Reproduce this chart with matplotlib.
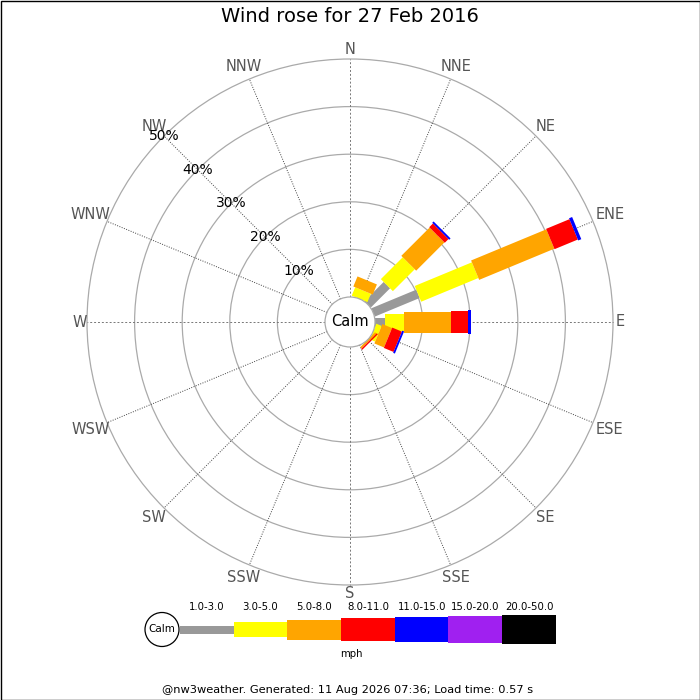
# Wind rose for 27 Feb 2016 (nw3weather style)

import numpy as np
import matplotlib
matplotlib.use("Agg")
import matplotlib.pyplot as plt
from matplotlib.patches import Rectangle, Circle

directions = ["N", "NNE", "NE", "ENE", "E", "ESE", "SE", "SSE",
              "S", "SSW", "SW", "WSW", "W", "WNW", "NW", "NNW"]
speed_bins = ["1.0-3.0", "3.0-5.0", "5.0-8.0", "8.0-11.0",
              "11.0-15.0", "15.0-20.0", "20.0-50.0"]
bin_colors = ["#999999", "#ffff00", "#ffa500", "#ff0000",
              "#0000ff", "#a020f0", "#000000"]

# percentage of time per direction, per speed bin
freq = {
    "NNE": [0.0, 1.9, 2.3, 0.0, 0.0, 0.0, 0.0],
    "NE":  [5.7, 6.5, 8.4, 1.1, 0.4, 0.0, 0.0],
    "ENE": [10.2, 13.0, 17.1, 5.3, 0.7, 0.0, 0.0],
    "E":   [2.1, 4.0, 9.9, 3.6, 0.5, 0.0, 0.0],
    "ESE": [0.0, 1.2, 2.2, 2.2, 0.4, 0.0, 0.0],
    "SE":  [0.0, 0.0, 0.4, 0.3, 0.0, 0.0, 0.0],
}
pct_rings = [10, 20, 30, 40, 50]

PX = 4.76          # pixels per percent
R0 = 25 / PX       # calm circle radius in percent units
bar_w = np.array([9, 17, 21, 22, 24, 26, 28]) / PX

fig = plt.figure(figsize=(7, 7), dpi=100)
ax = fig.add_axes([0, 0, 1, 1])
ax.set_xlim(-350 / PX, 350 / PX)
ax.set_ylim(-378 / PX, 322 / PX)
ax.axis("off")

rmax = R0 + pct_rings[-1]
for p in pct_rings:
    ax.add_patch(Circle((0, 0), R0 + p, fill=False, ec="#aaaaaa", lw=0.9, zorder=1))

for i, d in enumerate(directions):
    th = np.deg2rad(90 - 22.5 * i)
    c, s = np.cos(th), np.sin(th)
    ls = (0, (2, 2)) if i % 4 == 0 else (0, (1, 1.5))
    col = "#777777" if i % 4 == 0 else "#444444"
    ax.plot([R0 * c, rmax * c], [R0 * s, rmax * s], ls=ls, color=col, lw=0.7, zorder=2)
    # push label out so its box clears the outer ring
    tw, tht = 9.3 * len(d), 12
    rl = (266 + 0.5 * (abs(c) * tw + abs(s) * tht)) / PX
    ax.text(rl * c, rl * s, d, ha="center", va="center", fontsize=10.5, color="#555555")

# bars
for i, d in enumerate(directions):
    if d not in freq:
        continue
    th = np.deg2rad(90 - 22.5 * i)
    c, s = np.cos(th), np.sin(th)
    r = R0
    for k, v in enumerate(freq[d]):
        if v <= 0:
            continue
        w = bar_w[k]
        x0 = r * c + (w / 2) * s
        y0 = r * s - (w / 2) * c
        ax.add_patch(Rectangle((x0, y0), v, w, angle=np.rad2deg(th),
                               color=bin_colors[k], lw=0, zorder=3 + k))
        r += v

ax.add_patch(Circle((0, 0), R0, fc="white", ec="#aaaaaa", lw=0.9, zorder=12))
ax.text(0, 0, "Calm", ha="center", va="center", fontsize=10.5, zorder=13)

for p in pct_rings:
    th = np.deg2rad(135)
    ax.text((R0 + p) * np.cos(th), (R0 + p) * np.sin(th), f"{p}%",
            ha="center", va="center", fontsize=10, zorder=14)

# legend + title in pixel coords
lax = fig.add_axes([0, 0, 1, 1])
lax.set_xlim(0, 700)
lax.set_ylim(700, 0)
lax.axis("off")
lax.patch.set_alpha(0)

lax.text(350, 17, "Wind rose for 27 Feb 2016", ha="center", va="center", fontsize=14)

cy = 629.5
lax.add_patch(Circle((162, cy), 17, fill=False, ec="black", lw=0.9))
lax.text(162, cy, "Calm", ha="center", va="center", fontsize=7.5)
seg_h = [8, 15, 20, 22.6, 24.3, 26.7, 28.7]
x = 180
seg_len = 53.7
for k, lab in enumerate(speed_bins):
    lax.add_patch(Rectangle((x, cy - seg_h[k] / 2), seg_len, seg_h[k],
                            color=bin_colors[k], lw=0))
    lax.text(x + seg_len / 2, 607.5, lab, ha="center", va="center", fontsize=7.3)
    x += seg_len
lax.text(351, 654, "mph", ha="center", va="center", fontsize=7.3)

lax.text(348, 690, "@nw3weather. Generated: 11 Aug 2026 07:36; Load time: 0.57 s",
         ha="center", va="center", fontsize=8.2)
lax.add_patch(Rectangle((0.5, 0.5), 699, 699, fill=False, ec="black", lw=1))

fig.savefig("out.png", dpi=100)
